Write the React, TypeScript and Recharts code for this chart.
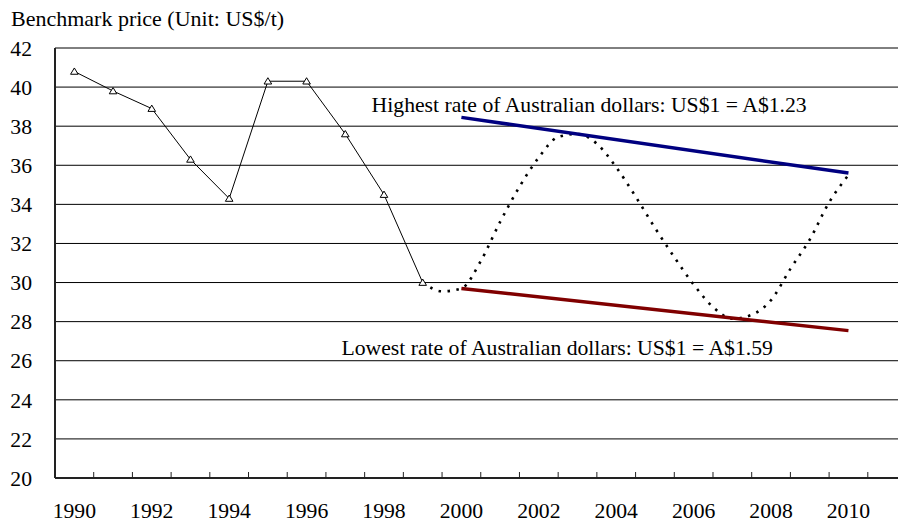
import React from "react";
import {
  LineChart,
  Line,
  XAxis,
  YAxis,
  CartesianGrid,
  ReferenceDot,
} from "recharts";

// historical benchmark price, 1990-1999
const histYears = [1990, 1991, 1992, 1993, 1994, 1995, 1996, 1997, 1998, 1999];
const histPrices = [40.8, 39.8, 38.9, 36.3, 34.3, 40.3, 40.3, 37.6, 34.5, 30.0];

// projected path (dotted), read at half-year steps
const projYears = [
  1999, 1999.5, 2000, 2000.5, 2001, 2001.5, 2002, 2002.5, 2003, 2003.5, 2004, 2004.5,
  2005, 2005.5, 2006, 2006.5, 2007, 2007.5, 2008, 2008.5, 2009, 2009.5, 2010,
];
const projPrices = [
  30.0, 29.55, 29.7, 31.1, 33.1, 34.9, 36.4, 37.45, 37.6, 37.1, 35.9, 34.4,
  32.8, 31.3, 29.9, 28.75, 28.15, 28.35, 29.1, 30.7, 32.2, 34.1, 35.5,
];

// exchange-rate bounds
const boundYears = [2000, 2010];
const highRate = [38.45, 35.6];
const lowRate = [29.7, 27.54];

const yTicks = [20, 22, 24, 26, 28, 30, 32, 34, 36, 38, 40, 42];
const yearLabels = [1990, 1992, 1994, 1996, 1998, 2000, 2002, 2004, 2006, 2008, 2010];
const yearBounds = [
  1990.5, 1991.5, 1992.5, 1993.5, 1994.5, 1995.5, 1996.5, 1997.5, 1998.5, 1999.5, 2000.5,
  2001.5, 2002.5, 2003.5, 2004.5, 2005.5, 2006.5, 2007.5, 2008.5, 2009.5, 2010.5,
];
const xTicks = [...yearLabels, ...yearBounds].sort((a, b) => a - b);

const highText = "Highest rate of Australian dollars: US$1 = A$1.23";
const lowText = "Lowest rate of Australian dollars: US$1 = A$1.59";

const histData = histYears.map((year, i) => ({ year, price: histPrices[i] }));
const projData = projYears.map((year, i) => ({ year, price: projPrices[i] }));
const highData = boundYears.map((year, i) => ({ year, price: highRate[i] }));
const lowData = boundYears.map((year, i) => ({ year, price: lowRate[i] }));

const FONT = '"Liberation Serif", "Times New Roman", serif';
const FS = 21.7;
const TICK_MARGIN = 25;

function Triangle(props: any) {
  const { cx, cy } = props;
  if (cx == null || cy == null) return null;
  return (
    <path
      d={`M${cx},${cy - 3.5} L${cx + 3.8},${cy + 2.8} L${cx - 3.8},${cy + 2.8} Z`}
      fill="#fff"
      stroke="#000"
      strokeWidth={1}
    />
  );
}

// year boundaries get an inward tick mark, even years get a label
function YearTick(props: any) {
  const { x, y, payload } = props;
  const v = payload.value;
  const axisY = y - TICK_MARGIN;
  if (v % 1 !== 0) {
    return <line x1={x} x2={x} y1={axisY} y2={axisY - 6} stroke="#222" strokeWidth={1} />;
  }
  return (
    <text x={x} y={y} dy="0.71em" textAnchor="middle" fill="#000" fontSize={FS} fontFamily={FONT}>
      {v}
    </text>
  );
}

export default function App() {
  return (
    <div style={{ position: "absolute", left: 0, top: 0, width: 898, height: 523, background: "#fff" }}>
      <div
        style={{
          position: "absolute",
          left: 11,
          top: 8,
          fontFamily: FONT,
          fontSize: 22,
          lineHeight: 1,
          color: "#000",
          whiteSpace: "nowrap",
        }}
      >
        Benchmark price (Unit: US$/t)
      </div>
      <LineChart width={898} height={523} margin={{ top: 48, right: 0, bottom: 0, left: 0 }}>
        <CartesianGrid horizontal vertical={false} stroke="#000" strokeWidth={1} />
        <XAxis
          dataKey="year"
          type="number"
          domain={[1989.5, 2011.28]}
          ticks={xTicks}
          interval={0}
          height={45}
          tickLine={false}
          tickSize={0}
          tickMargin={TICK_MARGIN}
          axisLine={{ stroke: "#222", strokeWidth: 2 }}
          tick={<YearTick />}
        />
        <YAxis
          type="number"
          domain={[20, 42]}
          ticks={yTicks}
          interval={0}
          width={55}
          tickLine={false}
          tickSize={0}
          tickMargin={23}
          axisLine={{ stroke: "#222", strokeWidth: 2 }}
          tick={{ fill: "#000", fontSize: FS, fontFamily: FONT }}
        />
        <Line
          data={projData}
          dataKey="price"
          type="monotone"
          stroke="#000"
          strokeWidth={2.6}
          strokeDasharray="2.5 6.5"
          dot={false}
          activeDot={false}
          isAnimationActive={false}
        />
        <Line
          data={highData}
          dataKey="price"
          type="linear"
          stroke="#000080"
          strokeWidth={3.5}
          dot={false}
          activeDot={false}
          isAnimationActive={false}
        />
        <Line
          data={lowData}
          dataKey="price"
          type="linear"
          stroke="#800000"
          strokeWidth={3.5}
          dot={false}
          activeDot={false}
          isAnimationActive={false}
        />
        <Line
          data={histData}
          dataKey="price"
          type="linear"
          stroke="#000"
          strokeWidth={1}
          dot={(p: any) => <Triangle key={`t-${p.index}`} {...p} />}
          activeDot={false}
          isAnimationActive={false}
        />
        <ReferenceDot
          x={1997.68}
          y={39.12}
          r={0}
          fill="none"
          stroke="none"
          label={{ value: highText, position: "right", offset: 0, fill: "#000", fontSize: FS, fontFamily: FONT }}
        />
        <ReferenceDot
          x={1996.9}
          y={26.68}
          r={0}
          fill="none"
          stroke="none"
          label={{ value: lowText, position: "right", offset: 0, fill: "#000", fontSize: FS, fontFamily: FONT }}
        />
      </LineChart>
    </div>
  );
}
